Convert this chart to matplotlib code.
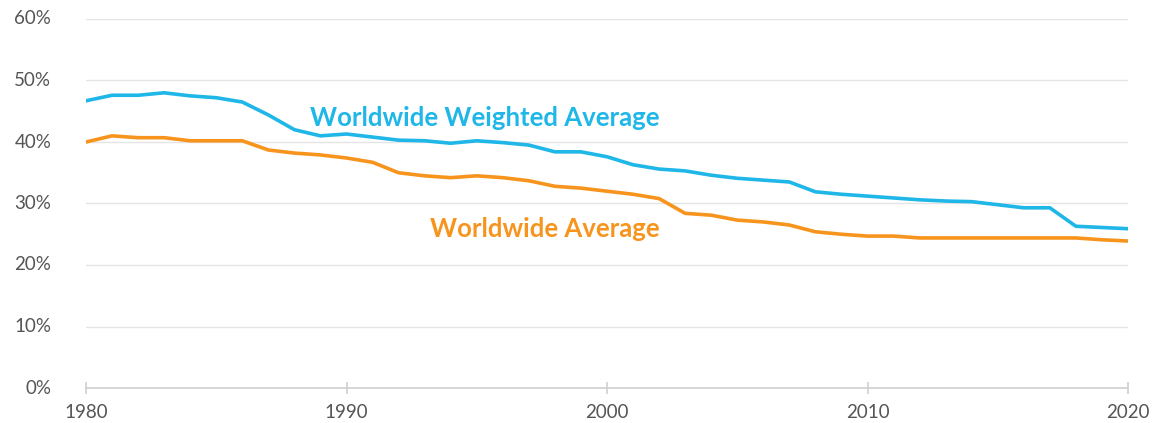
import matplotlib.pyplot as plt
import numpy as np

years = np.arange(1980, 2021)

weighted_avg = [46.7, 47.6, 47.6, 48.0, 47.5, 47.2, 46.5, 44.4, 42.0, 41.0,
                41.3, 40.8, 40.3, 40.2, 39.8, 40.2, 39.9, 39.5, 38.4, 38.4,
                37.6, 36.3, 35.6, 35.3, 34.6, 34.1, 33.8, 33.5, 31.9, 31.5,
                31.2, 30.9, 30.6, 30.4, 30.3, 29.8, 29.3, 29.3, 26.3, 26.1,
                25.9]

simple_avg = [40.0, 41.0, 40.7, 40.7, 40.2, 40.2, 40.2, 38.7, 38.2, 37.9,
              37.4, 36.7, 35.0, 34.5, 34.2, 34.5, 34.2, 33.7, 32.8, 32.5,
              32.0, 31.5, 30.8, 28.4, 28.1, 27.3, 27.0, 26.5, 25.4, 25.0,
              24.7, 24.7, 24.4, 24.4, 24.4, 24.4, 24.4, 24.4, 24.4, 24.1,
              23.9]

yticks = [0, 10, 20, 30, 40, 50, 60]
xticks = [1980, 1990, 2000, 2010, 2020]

blue = '#1fb6e8'
orange = '#f7941d'
grid_col = '#e4e4e4'
text_col = '#555555'

plt.rcParams['font.family'] = ['Lato', 'DejaVu Sans']

fig = plt.figure(figsize=(11.6, 4.23), dpi=100)
ax = fig.add_axes([86 / 1160, 1 - 388 / 423, (1128 - 86) / 1160, (388 - 19) / 423])

ax.plot(years, weighted_avg, color=blue, linewidth=2.6, solid_joinstyle='round')
ax.plot(years, simple_avg, color=orange, linewidth=2.6, solid_joinstyle='round')

ax.text(1988.6, 43.9, 'Worldwide Weighted Average', color=blue, fontsize=18.5,
        fontweight='bold', ha='left', va='center')
ax.text(1993.2, 25.8, 'Worldwide Average', color=orange, fontsize=18.5,
        fontweight='bold', ha='left', va='center')

ax.set_xlim(1980, 2020)
ax.set_ylim(0, 60)
ax.set_yticks(yticks)
ax.set_yticklabels([f'{v}%' for v in yticks])
ax.set_xticks(xticks)
ax.set_xticklabels([str(v) for v in xticks])

ax.grid(axis='y', color=grid_col, linewidth=1)
ax.set_axisbelow(True)
for side in ['top', 'right', 'left']:
    ax.spines[side].set_visible(False)
ax.spines['bottom'].set_color('#d0d0d0')
ax.spines['bottom'].set_linewidth(1.2)

ax.tick_params(axis='y', length=0, pad=25, labelsize=13.5, labelcolor=text_col)
ax.tick_params(axis='x', direction='inout', length=9, width=1.2, color='#d0d0d0',
               pad=7, labelsize=13.5, labelcolor=text_col)
for lbl in ax.get_yticklabels():
    lbl.set_verticalalignment('center')

fig.savefig('out.png', dpi=100)
